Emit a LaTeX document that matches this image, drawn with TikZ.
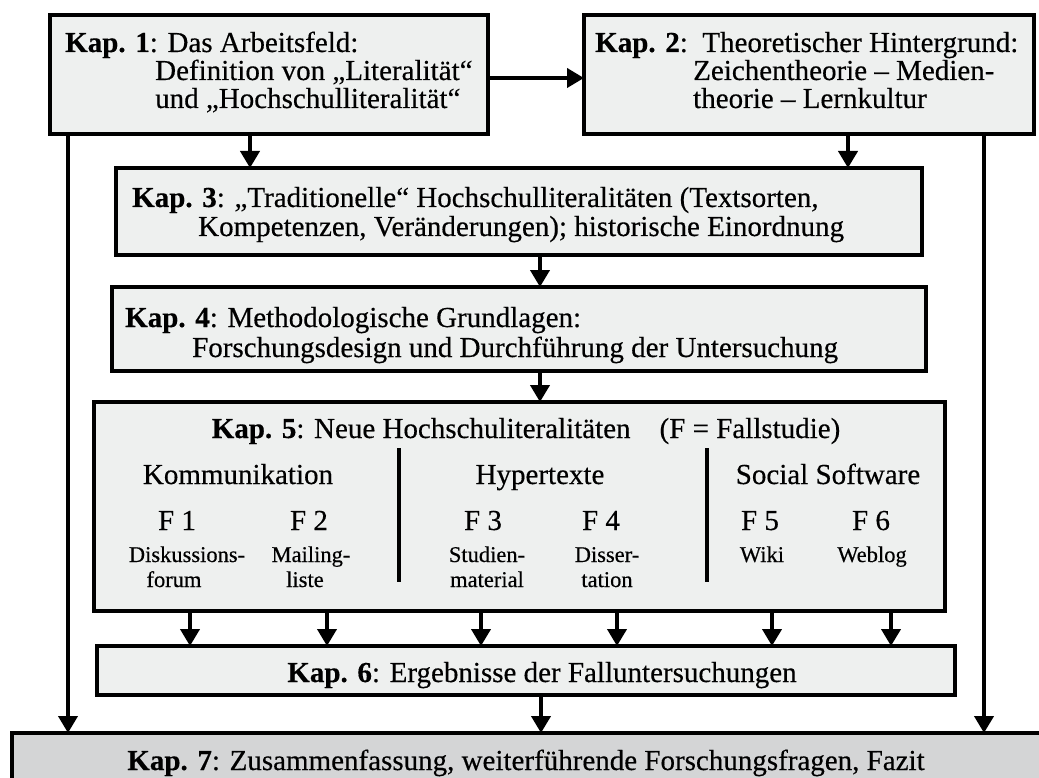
\documentclass[tikz,border=0pt]{standalone}
\usepackage{fontspec}
\setmainfont{Liberation Serif}[FakeBold=0.4]
\usetikzlibrary{arrows.meta}

\definecolor{boxfill}{RGB}{238,240,239}
\definecolor{summaryfill}{RGB}{212,213,214}

\tikzset{
  chapterbox/.style={draw=black, line width=3.5pt, fill=boxfill, inner sep=0pt, outer sep=0pt},
  summarybox/.style={chapterbox, fill=summaryfill},
  bodytext/.style={inner sep=0pt, anchor=base west, font=\fontsize{29pt}{29pt}\selectfont},
  centretext/.style={bodytext, anchor=base},
  smalltext/.style={inner sep=0pt, anchor=base, font=\fontsize{22.5pt}{25pt}\selectfont},
  connector/.style={line width=4pt, -{Triangle[width=19pt,length=17pt]}},
  divider/.style={line width=3.5pt},
}

\begin{document}
\begin{tikzpicture}[x=1pt, y=-1pt]
\clip (0,0) rectangle (1039,778);
\useasboundingbox (0,0) rectangle (1039,778);

% chapter boxes
\node[chapterbox, minimum width=438pt, minimum height=119pt] (k1) at (269,74.5) {};
\node[chapterbox, minimum width=450pt, minimum height=119pt] (k2) at (809,74.5) {};
\node[chapterbox, minimum width=806pt, minimum height=87pt] (k3) at (519,211.5) {};
\node[chapterbox, minimum width=814pt, minimum height=84pt] (k4) at (519,329) {};
\node[chapterbox, minimum width=851pt, minimum height=209pt] (k5) at (519.5,506.5) {};
\node[chapterbox, minimum width=858pt, minimum height=49pt] (k6) at (526,670.5) {};
\node[summarybox, minimum width=1048pt, minimum height=67pt] (k7) at (536,766.5) {};

% Kap. 1
\node[bodytext] (t1a) at (65,52) {\textbf{Kap. 1}: Das Arbeitsfeld:};
\node[bodytext] (t1b) at (155,80) {Definition von „Literalität“};
\node[bodytext] (t1c) at (155,108) {und „Hochschulliteralität“};
% Kap. 2
\node[bodytext] (t2a) at (595,52) {\textbf{Kap. 2}:\ \ Theoretischer Hintergrund:};
\node[bodytext] (t2b) at (693,80) {Zeichentheorie – Medien-};
\node[bodytext] (t2c) at (693,108) {theorie – Lernkultur};
% Kap. 3
\node[bodytext] (t3a) at (132,207) {\textbf{Kap. 3}: „Traditionelle“ Hochschulliteralitäten (Textsorten,};
\node[bodytext] (t3b) at (198,236) {Kompetenzen, Veränderungen); historische Einordnung};
% Kap. 4
\node[bodytext] (t4a) at (125,327) {\textbf{Kap. 4}: Methodologische Grundlagen:};
\node[bodytext] (t4b) at (192,357) {Forschungsdesign und Durchführung der Untersuchung};
% Kap. 5 to 7
\node[centretext] (t5) at (526,438)
  {\textbf{Kap. 5}: Neue Hochschuliteralitäten\quad(F = Fallstudie)};
\node[centretext] (t6) at (542,682)
  {\textbf{Kap. 6}: Ergebnisse der Falluntersuchungen};
\node[centretext] (t7) at (526,770)
  {\textbf{Kap. 7}: Zusammenfassung, weiterführende Forschungsfragen, Fazit};

% case study groups inside Kap. 5
\node[centretext] (g1) at (238,484) {Kommunikation};
\node[centretext] (g2) at (540,484) {Hypertexte};
\node[centretext] (g3) at (828,484) {Social Software};

\node[centretext] (f1) at (177,530) {F 1};
\node[centretext] (f2) at (309,530) {F 2};
\node[centretext] (f3) at (483,530) {F 3};
\node[centretext] (f4) at (601,530) {F 4};
\node[centretext] (f5) at (760,530) {F 5};
\node[centretext] (f6) at (871,530) {F 6};

\node[smalltext] (s1a) at (187,562) {Diskussions-};
\node[smalltext] (s1b) at (174,587) {forum};
\node[smalltext] (s2a) at (311,562) {Mailing-};
\node[smalltext] (s2b) at (305,587) {liste};
\node[smalltext] (s3a) at (487,562) {Studien-};
\node[smalltext] (s3b) at (487,587) {material};
\node[smalltext] (s4a) at (607,562) {Disser-};
\node[smalltext] (s4b) at (607,587) {tation};
\node[smalltext] (s5a) at (762,562) {Wiki};
\node[smalltext] (s6a) at (872,562) {Weblog};

\draw[divider] (399,448) -- (399,582);
\draw[divider] (707,448) -- (707,582);

% connector positions
\coordinate (xa) at (250,0);
\coordinate (xb) at (848,0);
\coordinate (xc) at (540,0);
\coordinate (xd) at (541,0);
\coordinate (xl) at (68,0);
\coordinate (xr) at (984,0);
\coordinate (yh) at (0,78);
\coordinate (c1) at (190,0);
\coordinate (c2) at (327,0);
\coordinate (c3) at (481,0);
\coordinate (c4) at (617,0);
\coordinate (c5) at (772,0);
\coordinate (c6) at (891,0);

% connectors
\draw[connector] (k1.east |- yh) -- (k2.west |- yh);
\draw[connector] (k1.south -| xa) -- (k3.north -| xa);
\draw[connector] (k2.south -| xb) -- (k3.north -| xb);
\draw[connector] (k3.south -| xc) -- (k4.north -| xc);
\draw[connector] (k4.south -| xc) -- (k5.north -| xc);
\foreach \c in {c1,c2,c3,c4,c5,c6}
  \draw[connector] (k5.south -| \c) -- (k6.north -| \c);
\draw[connector] (k6.south -| xd) -- (k7.north -| xd);
\draw[connector] (k1.south -| xl) -- (k7.north -| xl);
\draw[connector] (k2.south -| xr) -- (k7.north -| xr);
\end{tikzpicture}
\end{document}
